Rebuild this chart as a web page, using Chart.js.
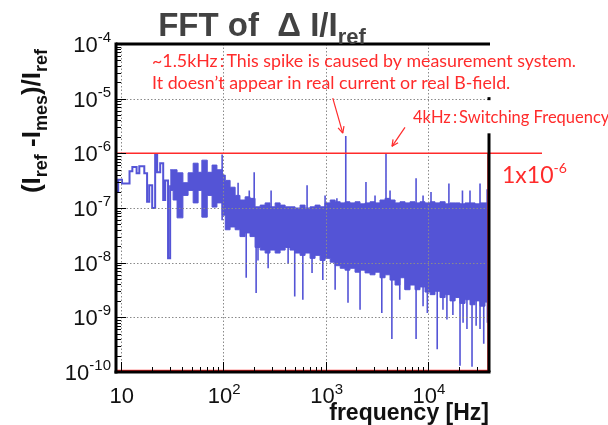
<!DOCTYPE html>
<html>
<head>
<meta charset="utf-8">
<title>FFT of ΔI/Iref</title>
<script src="https://cdn.jsdelivr.net/npm/chart.js@4.4.1/dist/chart.umd.min.js"></script>
<style>
  html, body { margin: 0; padding: 0; background: #fff; }
  canvas { display: block; }
</style>
</head>
<body>
<canvas id="fft" width="608" height="425"></canvas>
<script>
// Значения (лог-лог спектр, частота в Гц)
// Низкочастотная часть — отдельные ступеньки гистограммы
const lowFreq = [9.0, 9.0, 9.45, 10.3, 12.2, 13.0, 14.3, 15.2, 17.0, 18.1, 19.0, 20.3, 21.7, 22.7, 24.3, 26.0, 27.2, 29.0, 30.4]
const lowVal = [1e-10, 2.0e-7, 3.3e-7, 2.8e-7, 4.7e-7, 5.6e-7, 4.3e-7, 5.8e-7, 4.3e-7, 1.3e-7, 2.6e-7, 1.0e-7, 9.5e-7, 4.5e-7, 6.6e-7, 1.4e-7, 3.2e-7, 1.2e-8, 2.6e-7]

// Плотная часть — верхняя и нижняя огибающие сплошной полосы
const bandFreq = [30.4, 32.5, 35.5, 40.5, 45.5, 51, 57, 62, 70, 78,
  87, 98, 105, 117, 131, 146, 164, 183, 205, 230,
  257, 287, 322, 360, 403, 450, 504, 564, 631, 706,
  790, 884, 989, 1110, 1240, 1390, 1550, 1730, 1940, 2170,
  2430, 2720, 3040, 3400, 3810, 4260, 4770, 5330, 5970, 6680,
  7470, 8360, 9350, 10500, 11700, 13100, 14700, 16400, 18400, 20500,
  23000, 25700, 28800, 32200, 36000, 39400]
const bandTop = [5.0e-7, 5.0e-7, 4.4e-7, 2.9e-7, 4.4e-7, 6.6e-7, 4.5e-7, 7.5e-7, 4.5e-7, 6.1e-7,
  5.0e-7, 4.0e-7, 3.2e-7, 2.4e-7, 1.7e-7, 1.4e-7, 1.6e-7, 1.5e-7, 1.05e-7, 1.13e-7,
  1.24e-7, 1.05e-7, 1.24e-7, 1.13e-7, 1.05e-7, 1.05e-7, 1.0e-7, 1.13e-7, 1.0e-7, 1.05e-7,
  1.13e-7, 1.05e-7, 1.24e-7, 1.4e-7, 1.3e-7, 1.24e-7, 1.3e-7, 1.24e-7, 1.3e-7, 1.19e-7,
  1.24e-7, 1.3e-7, 1.24e-7, 1.4e-7, 1.5e-7, 1.4e-7, 1.24e-7, 1.3e-7, 1.24e-7, 1.3e-7,
  1.24e-7, 1.3e-7, 1.24e-7, 1.3e-7, 1.24e-7, 1.3e-7, 1.19e-7, 1.24e-7, 1.24e-7, 1.19e-7,
  1.24e-7, 1.24e-7, 1.19e-7, 1.24e-7, 1.24e-7, 1.4e-7]
const bandBottom = [2.1e-7, 1.4e-7, 6.6e-8, 1.7e-7, 2.1e-7, 1.24e-7, 2.1e-7, 6.8e-8, 1.7e-7, 1.04e-7,
  1.24e-7, 7.4e-8, 4.0e-8, 4.5e-8, 4.0e-8, 3.0e-8, 3.5e-8, 3.0e-8, 1.9e-8, 1.7e-8,
  1.5e-8, 1.7e-8, 1.5e-8, 1.7e-8, 1.9e-8, 1.7e-8, 1.5e-8, 1.36e-8, 1.5e-8, 1.2e-8,
  1.36e-8, 1.1e-8, 1.2e-8, 1.02e-8, 8.8e-9, 7.9e-9, 7.3e-9, 7.9e-9, 6.7e-9, 7.3e-9,
  6.5e-9, 6.0e-9, 6.7e-9, 5.3e-9, 6.0e-9, 4.8e-9, 3.9e-9, 5.3e-9, 3.2e-9, 3.9e-9,
  3.2e-9, 3.6e-9, 2.9e-9, 2.6e-9, 3.0e-9, 2.3e-9, 2.6e-9, 2.0e-9, 2.3e-9, 1.8e-9,
  2.1e-9, 1.7e-9, 2.0e-9, 1.6e-9, 1.9e-9, 2.1e-9]

// Отдельные выбросы вверх (в т.ч. 1.5 кГц и 4 кГц) и провалы вниз
const spikeFreq = [97.8, 140, 180, 201, 294, 660, 989, 1290, 1575, 2480, 3040, 3890, 4260, 7650, 8950, 10700, 16000, 21700, 25700, 32200, 37800]
const spikeVal = [9.5e-7, 2.9e-7, 2.1e-7, 4.5e-7, 2.1e-7, 2.6e-7, 1.7e-7, 1.5e-7, 2.07e-6, 3.0e-7, 1.7e-7, 1.0e-6, 2.1e-7, 3.5e-7, 1.7e-7, 1.96e-7, 2.8e-7, 2.1e-7, 2.1e-7, 2.8e-7, 2.2e-7]
const dipFreq = [168, 210, 219, 275, 431, 500, 600, 738, 940, 1240, 1656, 2171, 3540, 4440, 5300, 5970, 7650, 8950, 9850, 12300, 14000, 15300, 17500, 20540, 22000, 24000, 26900, 29500, 32200, 35000, 38000]
const dipVal = [5.3e-9, 2.8e-9, 1.1e-8, 7.9e-9, 9.6e-9, 2.4e-9, 2.1e-9, 6.5e-9, 4.8e-9, 3.2e-9, 1.85e-9, 1.37e-9, 1.2e-9, 4.0e-10, 2.1e-9, 3.2e-9, 4.0e-10, 1.6e-9, 1.2e-9, 2.6e-10, 1.37e-9, 9.1e-10, 1.1e-9, 1.3e-10, 8e-10, 6.1e-10, 1.25e-10, 7e-10, 6.1e-10, 3.3e-10, 8e-10]
const stemBase = 6e-8   // выбросы и провалы растут из середины полосы

// Оси
const xRange = [9.0, 39400]
const yRange = [1e-10, 1e-4]
const xGrid = [10, 100, 1000, 10000]
const xTickExp = ["", "2", "3", "4"]
const yGridExp = [-5, -6, -7, -8, -9]
const yTickExp = [-4, -5, -6, -7, -8, -9, -10]
const refLevel = 1e-6

const blue = "rgb(84, 84, 214)"
const red = "#ff2b2b"
const helv = "\"Liberation Sans\", Arial, Helvetica, sans-serif"
const note = "Lato, \"Noto Sans\", sans-serif"

const toPts = (xs, ys) => xs.map((x, i) => ({ x, y: ys[i] }))
const stems = (xs, ys) => xs.flatMap((x, i) => [{ x, y: stemBase }, { x, y: ys[i] }, { x, y: null }])

// Рисует строку из кусков с разными шрифтами (индексы/степени)
function runs(ctx, parts, x, y, align) {
  let w = 0
  parts.forEach(p => { ctx.font = p.font; p.w = ctx.measureText(p.t).width; w += p.w })
  let cx = align === "right" ? x - w : align === "center" ? x - w / 2 : x
  ctx.textAlign = "left"
  parts.forEach(p => { ctx.font = p.font; ctx.fillText(p.t, cx, y + (p.dy || 0)); cx += p.w })
  return w
}

function seg(ctx, x1, y1, x2, y2) {
  ctx.beginPath(); ctx.moveTo(x1, y1); ctx.lineTo(x2, y2); ctx.stroke()
}

function arrow(ctx, x1, y1, x2, y2) {
  seg(ctx, x1, y1, x2, y2)
  const ang = Math.atan2(y2 - y1, x2 - x1), len = 7
  seg(ctx, x2, y2, x2 - len * Math.cos(ang - 0.45), y2 - len * Math.sin(ang - 0.45))
  seg(ctx, x2, y2, x2 - len * Math.cos(ang + 0.45), y2 - len * Math.sin(ang + 0.45))
}

// Оформление в стиле ROOT: сетка, рамка, засечки внутрь, подписи
const rootStyle = {
  id: "rootStyle",
  afterDatasetsDraw(chart) {
    const { ctx, chartArea: a, scales: { x, y } } = chart
    ctx.save()

    // пунктирная сетка по декадам
    ctx.strokeStyle = "#8a8a8a"
    ctx.lineWidth = 1
    ctx.setLineDash([1.5, 2])
    xGrid.forEach(v => { const px = Math.round(x.getPixelForValue(v)) + 0.5; seg(ctx, px, a.top, px, a.bottom) })
    yGridExp.forEach(e => { const py = Math.round(y.getPixelForValue(10 ** e)) + 0.5; seg(ctx, a.left, py, a.right, py) })
    ctx.setLineDash([])

    // красная рамка уровня 1e-6
    const yRef = y.getPixelForValue(refLevel)
    ctx.strokeStyle = red
    ctx.lineWidth = 1.5
    seg(ctx, a.left, yRef, a.right + 53, yRef)
    seg(ctx, a.right - 1, yRef, a.right - 1, a.bottom)
    seg(ctx, a.left, a.bottom - 1.5, a.right, a.bottom - 1.5)

    // засечки внутрь
    ctx.strokeStyle = "#000"
    ctx.lineWidth = 1
    for (let d = -10; d < -4; d++) {
      for (let k = 1; k <= 9; k++) {
        const py = Math.round(y.getPixelForValue(k * 10 ** d)) + 0.5
        seg(ctx, a.left, py, a.left + (k === 1 ? 10 : 5), py)
      }
    }
    for (let d = 0; d <= 4; d++) {
      for (let k = 1; k <= 9; k++) {
        const v = k * 10 ** d
        if (v < xRange[0] || v > xRange[1]) continue
        const px = Math.round(x.getPixelForValue(v)) + 0.5
        seg(ctx, px, a.bottom, px, a.bottom - (k === 1 ? 10 : 5))
      }
    }

    // рамка
    ctx.lineWidth = 3
    seg(ctx, a.left, a.top, a.right + 1, a.top)
    seg(ctx, a.left, a.top - 1.5, a.left, a.bottom + 1.5)
    seg(ctx, a.left - 1.5, a.bottom, a.right + 1.5, a.bottom)
    seg(ctx, a.right, yRef - 20, a.right, a.bottom)
    ctx.fillStyle = "#000"
    ctx.fillRect(a.right - 1.5, y.getPixelForValue(1e-5) - 1.5, 3, 3)

    // подписи делений
    ctx.fillStyle = "#111"
    ctx.textBaseline = "alphabetic"
    yTickExp.forEach(e => {
      const py = y.getPixelForValue(10 ** e)
      runs(ctx, [
        { t: "10", font: `22px ${helv}`, dy: 8 },
        { t: String(e), font: `15px ${helv}`, dy: -2 }
      ], a.left - 5, py, "right")
    })
    xGrid.forEach((v, i) => {
      const px = x.getPixelForValue(v)
      const parts = [{ t: "10", font: `22px ${helv}` }]
      if (xTickExp[i]) parts.push({ t: xTickExp[i], font: `15px ${helv}`, dy: -9 })
      runs(ctx, parts, px + 1, a.bottom + 31, "center")
    })

    // заголовок
    ctx.fillStyle = "#424242"
    runs(ctx, [
      { t: "FFT of  \u0394 I/I", font: `bold 33px ${helv}` },
      { t: "ref", font: `bold 22px ${helv}`, dy: 8 }
    ], 262, 36, "center")

    // подписи осей
    ctx.fillStyle = "#111"
    runs(ctx, [{ t: "frequency [Hz]", font: `bold 23px ${helv}` }], a.right, 420, "right")
    ctx.save()
    ctx.translate(40, 121)
    ctx.rotate(-Math.PI / 2)
    runs(ctx, [
      { t: "(I", font: `bold 26px ${helv}` },
      { t: "ref", font: `bold 18px ${helv}`, dy: 7 },
      { t: " -I", font: `bold 26px ${helv}` },
      { t: "mes", font: `bold 18px ${helv}`, dy: 7 },
      { t: ")/I", font: `bold 26px ${helv}` },
      { t: "ref", font: `bold 18px ${helv}`, dy: 7 }
    ], 0, 0, "center")
    ctx.restore()

    // красные пояснения
    ctx.fillStyle = red
    runs(ctx, [{ t: "~1.5kHz\u2009:\u2009This spike is caused by measurement system.", font: `17.8px ${note}` }], 152, 67, "left")
    runs(ctx, [{ t: "It doesn\u2019t appear in real current or real B-field.", font: `17.8px ${note}` }], 152, 89, "left")
    runs(ctx, [{ t: "4kHz\u2009:\u2009Switching Frequency", font: `16.5px ${note}` }], 413, 123, "left")
    runs(ctx, [
      { t: "1x10", font: `23px ${note}` },
      { t: "-6", font: `14px ${note}`, dy: -10 }
    ], a.right + 13, yRef + 30, "left")

    ctx.strokeStyle = red
    ctx.lineWidth = 1.2
    const s1x = x.getPixelForValue(1575), s1y = y.getPixelForValue(2.07e-6)
    arrow(ctx, s1x - 13, s1y - 38, s1x - 3, s1y - 3)
    const s2x = x.getPixelForValue(3890), s2y = y.getPixelForValue(1.0e-6)
    arrow(ctx, s2x + 19, s2y - 26, s2x + 6, s2y - 7)

    ctx.restore()
  }
}

const chart = new Chart(document.getElementById("fft"), {
  type: "line",
  data: {
    datasets: [
      { data: toPts(bandFreq, bandTop), borderColor: blue, borderWidth: 1, stepped: true, fill: false },
      { data: toPts(bandFreq, bandBottom), borderColor: blue, borderWidth: 1, stepped: true, fill: "-1", backgroundColor: blue },
      { data: toPts(lowFreq, lowVal), borderColor: blue, borderWidth: 2, stepped: true, fill: false },
      { data: stems(spikeFreq, spikeVal), borderColor: blue, borderWidth: 1.6, fill: false, spanGaps: false },
      { data: stems(dipFreq, dipVal), borderColor: blue, borderWidth: 1.6, fill: false, spanGaps: false }
    ]
  },
  options: {
    responsive: false,
    animation: false,
    layout: { padding: { left: 116, right: 119, top: 44, bottom: 53 } },
    elements: { point: { radius: 0 } },
    scales: {
      x: { type: "logarithmic", min: xRange[0], max: xRange[1], display: false },
      y: { type: "logarithmic", min: yRange[0], max: yRange[1], display: false }
    },
    plugins: {
      legend: { display: false },
      tooltip: { enabled: false }
    }
  },
  plugins: [rootStyle]
})
</script>
</body>
</html>
